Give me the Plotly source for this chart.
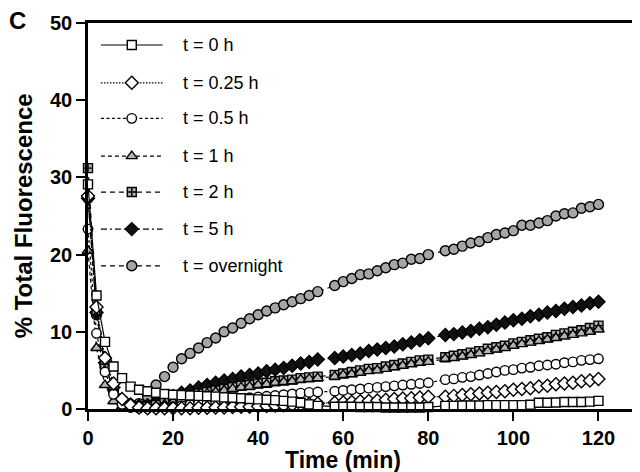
import plotly.graph_objects as go

# ---- data ----
time_min = [0, 2, 4, 6, 8, 10, 12, 14, 16, 18, 20, 22, 24, 26, 28, 30, 32, 34, 36, 38,
            40, 42, 44, 46, 48, 50, 52, 54,
            58, 60, 62, 64, 66, 68, 70, 72, 74, 76, 78, 80,
            84, 86, 88, 90, 92, 94, 96, 98, 100, 102, 104, 106, 108, 110, 112, 114, 116, 118, 120]

t0h = [29.1, 14.7, 8.7, 5.5, 4.0, 2.9, 2.5, 2.3, 2.1, 1.95, 1.85, 1.8, 1.75, 1.7, 1.65, 1.6, 1.5, 1.45, 1.4, 1.3,
       1.25, 1.2, 1.15, 1.05, 0.95, 0.8, 0.6, 0.4,
       0.3, 0.3, 0.3, 0.25, 0.25, 0.25, 0.2, 0.2, 0.2, 0.2, 0.2, 0.25,
       0.4, 0.4, 0.45, 0.45, 0.45, 0.5, 0.5, 0.5, 0.5, 0.5, 0.55, 0.8, 0.8, 0.85, 0.9, 0.9, 0.9, 0.95, 1.05]
t025h = [27.6, 13.2, 6.6, 3.3, 1.3, 0.5, 0.2, 0.1, 0.1, 0.1, 0.1, 0.1, 0.1, 0.15, 0.15, 0.2, 0.2, 0.25, 0.3, 0.3,
         0.35, 0.4, 0.45, 0.5, 0.55, 0.6, 0.65, 0.7,
         0.8, 0.85, 0.9, 1.0, 1.05, 1.1, 1.2, 1.3, 1.35, 1.4, 1.5, 1.6,
         1.6, 1.7, 1.8, 1.9, 2.0, 2.1, 2.2, 2.3, 2.5, 2.6, 2.7, 2.9, 3.0, 3.2, 3.3, 3.4, 3.6, 3.7, 3.9]
t05h = [23.3, 9.8, 4.8, 1.9, 0.6, 0.2, 0.1, 0.1, 0.1, 0.2, 0.3, 0.4, 0.55, 0.7, 0.8, 0.95, 1.05, 1.15, 1.3, 1.45,
        1.55, 1.65, 1.75, 1.85, 1.95, 2.05, 2.15, 2.2,
        2.3, 2.4, 2.5, 2.6, 2.7, 2.8, 2.9, 3.0, 3.1, 3.2, 3.3, 3.4,
        3.8, 3.9, 4.1, 4.2, 4.4, 4.6, 4.8, 5.0, 5.1, 5.3, 5.4, 5.6, 5.7, 5.8, 6.0, 6.1, 6.3, 6.4, 6.5]
t1h = [20.5, 7.9, 3.1, 1.0, 0.3, 0.1, 0.1, 0.1, 0.3, 0.6, 0.9, 1.2, 1.5, 1.8, 2.0, 2.2, 2.4, 2.6, 2.8, 2.9,
       3.1, 3.2, 3.4, 3.5, 3.6, 3.8, 3.9, 4.0,
       4.2, 4.4, 4.5, 4.7, 4.9, 5.0, 5.2, 5.4, 5.6, 5.8, 6.0, 6.1,
       6.5, 6.6, 6.8, 7.0, 7.2, 7.5, 7.7, 7.9, 8.2, 8.4, 8.6, 8.8, 9.0, 9.2, 9.4, 9.6, 9.8, 10.0, 10.3]
t2h = [31.2, 12.8, 5.8, 2.5, 1.0, 0.4, 0.3, 0.3, 0.5, 0.8, 1.1, 1.4, 1.7, 2.0, 2.2, 2.4, 2.6, 2.8, 3.0, 3.1,
       3.3, 3.4, 3.6, 3.7, 3.8, 4.0, 4.1, 4.2,
       4.4, 4.6, 4.8, 5.0, 5.2, 5.3, 5.5, 5.7, 5.9, 6.1, 6.3, 6.4,
       6.7, 6.9, 7.1, 7.3, 7.5, 7.8, 8.0, 8.2, 8.5, 8.7, 8.9, 9.1, 9.3, 9.6, 9.8, 10.0, 10.2, 10.5, 10.8]
t5h = [27.3, 12.5, 6.0, 2.8, 1.2, 0.6, 0.4, 0.5, 0.8, 1.2, 1.7, 2.1, 2.4, 2.8, 3.1, 3.4, 3.7, 3.9, 4.2, 4.4,
       4.6, 4.9, 5.1, 5.3, 5.6, 5.9, 6.1, 6.4,
       6.6, 6.8, 7.0, 7.2, 7.5, 7.7, 7.9, 8.1, 8.4, 8.6, 8.9, 9.15,
       9.6, 9.7, 9.9, 10.1, 10.4, 10.6, 10.9, 11.2, 11.5, 11.7, 12.0, 12.2, 12.5, 12.7, 13.0, 13.2, 13.4, 13.7, 13.9]
t_overnight = [27.3, 12.2, 5.5, 2.5, 1.2, 0.6, 0.7, 1.6, 3.1, 4.2, 5.4, 6.5, 7.2, 7.9, 8.6, 9.2, 10.0, 10.5, 11.1, 11.7,
               12.2, 12.7, 13.1, 13.5, 13.9, 14.3, 14.7, 15.2,
               16.0, 16.5, 16.9, 17.4, 17.5, 17.9, 18.3, 18.7, 18.9, 19.4, 19.5, 20.0,
               20.5, 20.7, 21.1, 21.5, 21.7, 22.2, 22.6, 22.8, 23.1, 23.8, 23.8, 24.1, 24.4, 25.0, 25.3, 25.4, 26.0, 26.2, 26.5]

series_labels = ["t = 0 h", "t = 0.25 h", "t = 0.5 h", "t = 1 h", "t = 2 h", "t = 5 h", "t = overnight"]
series_values = [t0h, t025h, t05h, t1h, t2h, t5h, t_overnight]

x_ticks = [0, 20, 40, 60, 80, 100, 120]
y_ticks = [0, 10, 20, 30, 40, 50]

# ---- styles ----
styles = [
    dict(symbol="square", fill="white", size=9, dash="solid"),
    dict(symbol="diamond", fill="white", size=10, dash="1.5px,1.5px"),
    dict(symbol="circle", fill="white", size=9.5, dash="3px,2.5px"),
    dict(symbol="triangle-up", fill="#b4b4b4", size=10, dash="4px,3px"),
    dict(symbol="square-cross", fill="#b0b0b0", size=9, dash="5px,4px"),
    dict(symbol="diamond", fill="#111111", size=10, dash="6px,3px,2px,3px"),
    dict(symbol="circle", fill="#a6a6a6", size=10, dash="5px,4px"),
]

FONT = "Arial, Liberation Sans, Helvetica, sans-serif"

fig = go.Figure()

# data traces, drawn in reverse so earlier series sit on top
for label, vals, st in reversed(list(zip(series_labels, series_values, styles))):
    fig.add_trace(go.Scatter(
        x=time_min, y=vals, name=label, mode="lines+markers",
        line=dict(color="black", width=1.2, dash=st["dash"]),
        marker=dict(symbol=st["symbol"], size=st["size"], color=st["fill"],
                    line=dict(color="black", width=1.4)),
        cliponaxis=False, showlegend=False,
    ))

# hand-drawn legend on an overlay axis (0..1 in plot area units)
leg_rows = [0.943, 0.845, 0.753, 0.655, 0.562, 0.466, 0.371]
leg_x0, leg_x1, leg_text_x = 0.0234, 0.1349, 0.1673
for label, st, ry in zip(series_labels, styles, leg_rows):
    fig.add_trace(go.Scatter(
        x=[leg_x0, leg_x1], y=[ry, ry], mode="lines", xaxis="x2", yaxis="y2",
        line=dict(color="black", width=1.2, dash=st["dash"]),
        showlegend=False, hoverinfo="skip",
    ))
    fig.add_trace(go.Scatter(
        x=[(leg_x0 + leg_x1) / 2], y=[ry], mode="markers", xaxis="x2", yaxis="y2",
        marker=dict(symbol=st["symbol"], size=st["size"], color=st["fill"],
                    line=dict(color="black", width=1.4)),
        showlegend=False, hoverinfo="skip",
    ))
    fig.add_annotation(x=leg_text_x, y=ry, xref="paper", yref="paper", text=label,
                       showarrow=False, xanchor="left", yanchor="middle",
                       font=dict(family=FONT, size=18, color="black"))

axis_common = dict(
    showline=True, linecolor="black", linewidth=2.5, mirror=True,
    ticks="outside", ticklen=9, tickwidth=2, tickcolor="black",
    showgrid=False, zeroline=False,
    tickfont=dict(family=FONT, size=20, color="black", weight="bold"),
)

fig.update_layout(
    width=640, height=472,
    margin=dict(l=80, r=4, t=13, b=71),
    paper_bgcolor="white", plot_bgcolor="white",
    xaxis=dict(range=[0, 130], tickvals=x_ticks, **axis_common),
    yaxis=dict(range=[0, 50], tickvals=y_ticks, **axis_common),
    xaxis2=dict(overlaying="x", range=[0, 1], visible=False),
    yaxis2=dict(overlaying="y", range=[0, 1], visible=False),
    showlegend=False,
)

fig.add_annotation(x=-0.117, y=0.5, xref="paper", yref="paper", text="% Total Fluorescence",
                   textangle=-90, showarrow=False, xanchor="center", yanchor="middle",
                   font=dict(family=FONT, size=24, color="black", weight="bold"))
fig.add_annotation(x=0.461, y=-0.133, xref="paper", yref="paper", text="Time (min)",
                   showarrow=False, xanchor="center", yanchor="middle", borderpad=0,
                   font=dict(family=FONT, size=23, color="black", weight="bold"))
fig.add_annotation(x=-0.146, y=1.006, xref="paper", yref="paper", text="C",
                   showarrow=False, xanchor="left", yanchor="middle",
                   font=dict(family=FONT, size=24, color="black", weight="bold"))

fig.write_html("out.html")
